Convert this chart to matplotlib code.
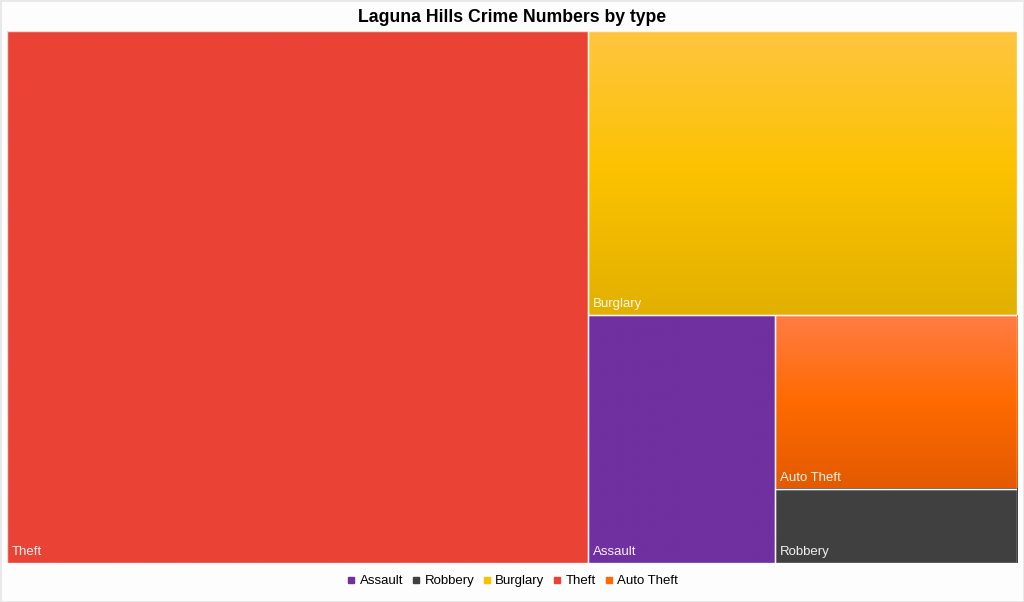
import matplotlib
matplotlib.use("Agg")
import matplotlib.pyplot as plt
import numpy as np
from matplotlib.patches import Rectangle
from matplotlib.colors import LinearSegmentedColormap
from matplotlib.lines import Line2D

plt.rcParams['font.family'] = ['Liberation Sans', 'DejaVu Sans']

title = "Laguna Hills Crime Numbers by type"
categories = ["Theft", "Burglary", "Assault", "Auto Theft", "Robbery"]
values = [515, 203, 77, 70, 30]
legend_order = ["Assault", "Robbery", "Burglary", "Theft", "Auto Theft"]
colors = {
    "Theft": ["#EA4335", "#EA4335", "#EA4335"],
    "Burglary": ["#FFC540", "#FCC200", "#E2B000"],
    "Assault": ["#7030A0", "#7030A0", "#7030A0"],
    "Auto Theft": ["#FF7C45", "#FF6A00", "#E35A00"],
    "Robbery": ["#404040", "#404040", "#404040"],
}
legend_colors = {"Assault": "#7030A0", "Robbery": "#404040", "Burglary": "#FBC000",
                 "Theft": "#EA4335", "Auto Theft": "#FF6A00"}

W, H = 1010.0, 532.0


def worst(row, side):
    s = sum(row)
    return max(max(side * side * r / (s * s), (s * s) / (side * side * r)) for r in row)


def layout_row(row, x, y, w, h):
    s = sum(row)
    rects = []
    if w >= h:
        cw = s / h
        cy = y
        for r in row:
            rh = r / cw
            rects.append((x, cy, cw, rh))
            cy += rh
        return rects, (x + cw, y, w - cw, h)
    else:
        rh = s / w
        cx = x
        for r in row:
            rw = r / rh
            rects.append((cx, y, rw, rh))
            cx += rw
        return rects, (x, y + rh, w, h - rh)


def squarify(vals, x, y, w, h):
    total = sum(vals)
    areas = [v * w * h / total for v in vals]
    rects = []
    rect = (x, y, w, h)
    i = 0
    while i < len(areas):
        side = min(rect[2], rect[3])
        row = [areas[i]]
        i += 1
        while i < len(areas) and worst(row + [areas[i]], side) <= worst(row, side):
            row.append(areas[i])
            i += 1
        r, rect = layout_row(row, *rect)
        rects.extend(r)
    return rects


# y measured from top (0) downward
rects = squarify(values, 0, 0, W, H)

fig = plt.figure(figsize=(10.24, 6.02), dpi=100, facecolor="#FDFDFD")
ax = fig.add_axes([7 / 1024, 39 / 602, 1010 / 1024, 532 / 602])
ax.set_xlim(0, W)
ax.set_ylim(H, 0)
ax.axis("off")

for cat, (x, y, w, h) in zip(categories, rects):
    cmap = LinearSegmentedColormap.from_list(cat, colors[cat])
    grad = np.linspace(0, 1, 256).reshape(-1, 1)
    ax.imshow(grad, cmap=cmap, extent=(x, x + w, y + h, y), aspect="auto",
              interpolation="bilinear", zorder=1)
    ax.add_patch(Rectangle((x, y), w, h, fill=False, edgecolor="white",
                           linewidth=1.0, alpha=0.8, zorder=2))
    ax.text(x + 5, y + h - 5, cat, color="white", fontsize=9.5, alpha=0.92,
            ha="left", va="bottom", zorder=3)

ax.set_xlim(0, W)
ax.set_ylim(H, 0)

fig.text(0.5, 1 - 17 / 602, title, ha="center", va="center",
         fontsize=12.7, fontweight="bold", color="black")

handles = [Line2D([0], [0], marker="s", linestyle="none", markersize=5,
                  markerfacecolor=legend_colors[c], markeredgecolor=legend_colors[c])
           for c in legend_order]
fig.legend(handles, legend_order, loc="center", bbox_to_anchor=(0.5, 1 - 581 / 602),
           ncol=5, frameon=False, fontsize=9.5, handletextpad=0.25,
           columnspacing=0.55, handlelength=0.8)

fig.add_artist(Rectangle((0.5 / 1024, 0.5 / 602), 1 - 1 / 1024, 1 - 1 / 602,
                         transform=fig.transFigure, fill=False,
                         edgecolor="#E6E6E6", linewidth=1.2))

fig.savefig("out.png", dpi=100, facecolor=fig.get_facecolor())
